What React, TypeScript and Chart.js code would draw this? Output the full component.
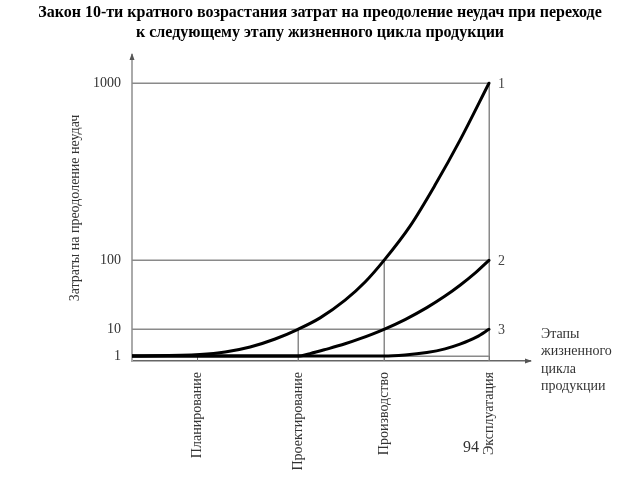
import React, { useEffect, useRef } from 'react';
import { Chart, registerables, LinearScale } from 'chart.js';

Chart.register(...registerables);

// ---------- text ----------
const TITLE_LINES = [
  'Закон 10-ти кратного возрастания затрат на преодоление неудач при переходе',
  'к следующему этапу жизненного цикла продукции',
];
const Y_TITLE = 'Затраты на преодоление неудач';
const X_TITLE_LINES = ['Этапы', 'жизненного', 'цикла', 'продукции'];
const PAGE_NUMBER = '94';

// ---------- categories / ticks ----------
const STAGES = ['Планирование', 'Проектирование', 'Производство', 'Эксплуатация'];
const STAGE_X = [18.2, 46.5, 70.6, 100];
const STAGE_DROP = [null, 10, 100, 1000];
const COST_TICKS = [1, 10, 100, 1000];
const CURVE_NAMES = ['1', '2', '3'];

// ---------- series ----------
const CURVE1_X = [0, 19, 26.1, 33.1, 40.1, 46.5, 52.7, 59.7, 65.3, 70.6, 77.9, 84.9, 91.9, 100];
const CURVE1_Y = [1, 1.25, 1.69, 2.84, 5.44, 10, 17.6, 34.6, 59.5, 100, 191, 348, 587, 1000];
const CURVE2_X = [0, 46.5, 49.9, 54.6, 59.7, 63.9, 70.6, 76.5, 82.6, 87.7, 91.9, 96.1, 100];
const CURVE2_Y = [1, 1, 1.4, 2.32, 3.76, 5.56, 10, 16.3, 26.6, 39.5, 54.4, 74.5, 100];
const CURVE3_X = [0, 70.6, 76.5, 82.6, 87.7, 91.9, 96.6, 100];
const CURVE3_Y = [1, 1, 1.17, 1.6, 2.37, 3.64, 6.29, 10];

// ---------- axis settings ----------
const X_MIN = 0;
const X_MAX = 111.5;
const Y_MIN = 0.44;
const Y_MAX = 1254;
const Y_EXPONENT = 0.41;

const SERIF = "'Liberation Serif', 'Times New Roman', serif";

// Power scale (the hand-drawn cost axis compresses large values)
class PowerScale extends LinearScale {
  static id = 'power';
  static defaults = LinearScale.defaults;
  getPixelForValue(value: any) {
    if (value === null || value === undefined || isNaN(value)) return NaN;
    const p = Y_EXPONENT;
    const a = Math.pow((this as any).min, p);
    const b = Math.pow((this as any).max, p);
    return (this as any).getPixelForDecimal((Math.pow(Math.max(value, 0), p) - a) / (b - a));
  }
  getValueForPixel(pixel: number) {
    const p = Y_EXPONENT;
    const a = Math.pow((this as any).min, p);
    const b = Math.pow((this as any).max, p);
    const t = a + (this as any).getDecimalForPixel(pixel) * (b - a);
    return Math.pow(t, 1 / p);
  }
}
Chart.register(PowerScale as any);

const decorPlugin = {
  id: 'decor',
  beforeDatasetsDraw(chart: any) {
    const { ctx, chartArea, scales } = chart;
    const x = scales.x;
    const y = scales.y;
    const xEnd = x.getPixelForValue(STAGE_X[STAGE_X.length - 1]);
    ctx.save();
    ctx.strokeStyle = '#8a8a8a';
    ctx.lineWidth = 1.5;
    COST_TICKS.forEach((v) => {
      const py = Math.round(y.getPixelForValue(v)) + 0.25;
      ctx.beginPath();
      ctx.moveTo(chartArea.left, py);
      ctx.lineTo(xEnd, py);
      ctx.stroke();
    });
    STAGE_X.forEach((sx, i) => {
      const lvl = STAGE_DROP[i];
      if (lvl === null) return;
      const px = Math.round(x.getPixelForValue(sx)) + 0.25;
      ctx.beginPath();
      ctx.moveTo(px, y.getPixelForValue(lvl));
      ctx.lineTo(px, chartArea.bottom);
      ctx.stroke();
    });
    // small inner ticks on the stage axis
    ctx.strokeStyle = '#777';
    ctx.lineWidth = 1;
    STAGE_X.forEach((sx) => {
      const px = Math.round(x.getPixelForValue(sx)) + 0.5;
      ctx.beginPath();
      ctx.moveTo(px, chartArea.bottom - 5);
      ctx.lineTo(px, chartArea.bottom);
      ctx.stroke();
    });
    ctx.restore();
  },
  afterDatasetsDraw(chart: any) {
    const { ctx } = chart;
    ctx.save();
    ctx.fillStyle = '#444';
    ctx.font = `14px ${SERIF}`;
    ctx.textAlign = 'left';
    ctx.textBaseline = 'middle';
    chart.data.datasets.forEach((_: any, i: number) => {
      const meta = chart.getDatasetMeta(i);
      const pt = meta.data[meta.data.length - 1];
      ctx.fillText(CURVE_NAMES[i], pt.x + 9, pt.y + 1);
    });
    ctx.restore();
  },
  afterDraw(chart: any) {
    const { ctx, chartArea, width } = chart;
    ctx.save();
    // title
    ctx.fillStyle = '#000';
    ctx.font = `bold 16px ${SERIF}`;
    ctx.textAlign = 'center';
    ctx.textBaseline = 'middle';
    TITLE_LINES.forEach((line, i) => ctx.fillText(line, width / 2, 13 + i * 19.5));
    // arrows
    ctx.fillStyle = '#555';
    ctx.beginPath();
    ctx.moveTo(chartArea.left, chartArea.top - 2);
    ctx.lineTo(chartArea.left - 2.5, chartArea.top + 5);
    ctx.lineTo(chartArea.left + 2.5, chartArea.top + 5);
    ctx.closePath();
    ctx.fill();
    ctx.beginPath();
    ctx.moveTo(chartArea.right + 2, chartArea.bottom);
    ctx.lineTo(chartArea.right - 5, chartArea.bottom - 2.5);
    ctx.lineTo(chartArea.right - 5, chartArea.bottom + 2.5);
    ctx.closePath();
    ctx.fill();
    // x axis title
    ctx.fillStyle = '#333';
    ctx.font = `14px ${SERIF}`;
    ctx.textAlign = 'left';
    X_TITLE_LINES.forEach((line, i) =>
      ctx.fillText(line, chartArea.right + 11, chartArea.bottom - 27 + i * 17.5)
    );
    // page number
    ctx.font = `16px ${SERIF}`;
    ctx.textAlign = 'center';
    const xs = chart.scales.x;
    ctx.fillText(PAGE_NUMBER, xs.getPixelForValue(STAGE_X[3]) - 18, chartArea.bottom + 87);
    ctx.restore();
  },
};

export default function App() {
  const ref = useRef<HTMLCanvasElement>(null);
  useEffect(() => {
    const curves = [
      [CURVE1_X, CURVE1_Y],
      [CURVE2_X, CURVE2_Y],
      [CURVE3_X, CURVE3_Y],
    ];
    const chart = new Chart(ref.current as HTMLCanvasElement, {
      type: 'line',
      data: {
        datasets: curves.map(([xs, ys], i) => ({
          label: CURVE_NAMES[i],
          data: xs.map((xv, j) => ({ x: xv, y: ys[j] })),
          borderColor: '#000',
          borderWidth: 3,
          pointRadius: 0,
          fill: false,
          cubicInterpolationMode: 'monotone',
          borderCapStyle: 'round',
        })),
      },
      options: {
        animation: false,
        responsive: false,
        devicePixelRatio: 1,
        layout: { padding: { left: 0, right: 110, top: 55, bottom: 0 } },
        plugins: {
          legend: { display: false },
          tooltip: { enabled: false },
          title: { display: false },
        },
        scales: {
          x: {
            type: 'linear',
            min: X_MIN,
            max: X_MAX,
            bounds: 'data',
            afterBuildTicks: (s: any) => {
              s.ticks = STAGE_X.map((v) => ({ value: v }));
            },
            afterFit: (s: any) => {
              s.height = 119;
            },
            ticks: {
              autoSkip: false,
              minRotation: 90,
              maxRotation: 90,
              padding: 11,
              color: '#333',
              font: { family: SERIF, size: 14 },
              callback: (_v: any, i: number) => STAGES[i],
            },
            grid: { display: true, drawOnChartArea: false, drawTicks: false },
            border: { display: true, color: '#666', width: 1.5 },
          },
          y: {
            type: 'power' as any,
            min: Y_MIN,
            max: Y_MAX,
            bounds: 'data',
            afterBuildTicks: (s: any) => {
              s.ticks = COST_TICKS.map((v) => ({ value: v }));
            },
            afterFit: (s: any) => {
              s.width = 132;
            },
            ticks: {
              padding: 11,
              color: '#333',
              font: { family: SERIF, size: 14 },
              callback: (v: any) => String(v),
            },
            title: {
              display: true,
              text: Y_TITLE,
              color: '#333',
              font: { family: SERIF, size: 14 },
              padding: { top: 67, bottom: 0 },
            },
            grid: { display: true, drawOnChartArea: false, drawTicks: false },
            border: { display: true, color: '#aaa', width: 2 },
          },
        },
      } as any,
      plugins: [decorPlugin],
    } as any);
    return () => chart.destroy();
  }, []);
  return (
    <div style={{ position: 'fixed', left: 0, top: 0, width: 640, height: 480, background: '#fff' }}>
      <canvas ref={ref} width={640} height={480} style={{ display: 'block', width: 640, height: 480 }} />
    </div>
  );
}
